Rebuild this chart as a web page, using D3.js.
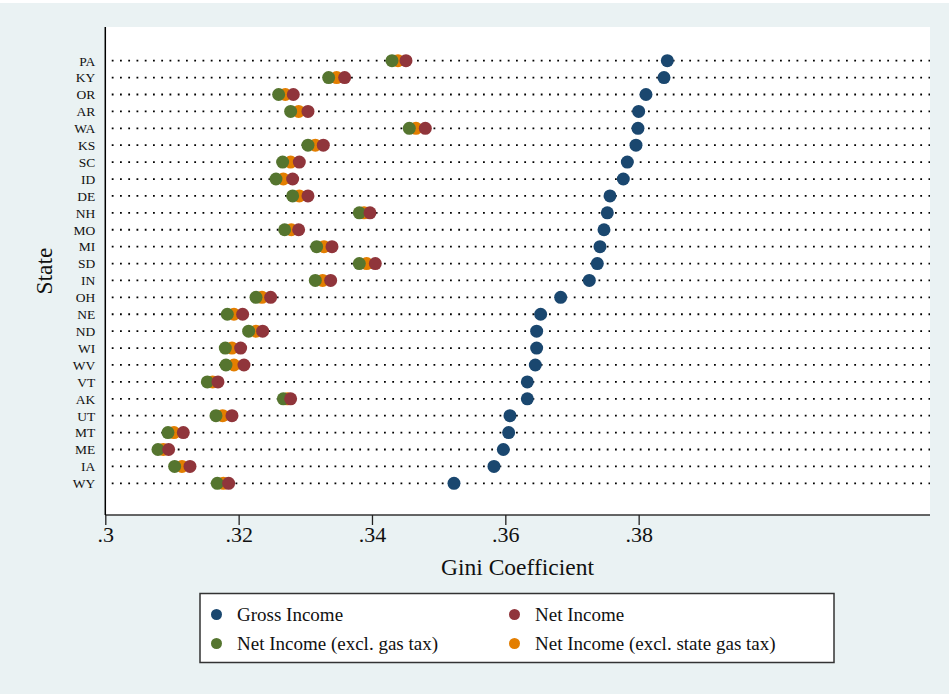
<!DOCTYPE html>
<html><head><meta charset="utf-8">
<script src="https://cdn.jsdelivr.net/npm/d3@7"></script>
<style>html,body{margin:0;padding:0;background:#fff;}svg{display:block;}</style>
</head><body>
<svg id="chart" width="949" height="694"></svg>
<script>
const states = ["PA","KY","OR","AR","WA","KS","SC","ID","DE","NH","MO","MI","SD","IN","OH","NE","ND","WI","WV","VT","AK","UT","MT","ME","IA","WY"];
const gross     = [0.3843,0.3838,0.3811,0.3800,0.3799,0.3796,0.3783,0.3777,0.3757,0.3753,0.3748,0.3742,0.3738,0.3726,0.3683,0.3653,0.3647,0.3647,0.3645,0.3633,0.3633,0.3607,0.3605,0.3597,0.3583,0.3523];
const net       = [0.3451,0.3359,0.3282,0.3304,0.3480,0.3327,0.3291,0.3281,0.3304,0.3397,0.3290,0.3340,0.3405,0.3338,0.3248,0.3206,0.3236,0.3203,0.3208,0.3169,0.3278,0.3190,0.3117,0.3095,0.3127,0.3185];
const exclGas   = [0.3430,0.3335,0.3260,0.3278,0.3456,0.3304,0.3266,0.3256,0.3281,0.3381,0.3269,0.3317,0.3381,0.3315,0.3226,0.3183,0.3215,0.3180,0.3181,0.3153,0.3267,0.3166,0.3094,0.3079,0.3104,0.3168];
const exclState = [0.3439,0.3347,0.3270,0.3290,0.3466,0.3315,0.3278,0.3267,0.3291,0.3388,0.3279,0.3328,0.3392,0.3326,0.3235,0.3193,0.3226,0.3190,0.3193,0.3161,0.3273,0.3176,0.3103,0.3087,0.3115,0.3177];
const xTicks = [0.30,0.32,0.34,0.36,0.38];
const xTickLabels = [".3",".32",".34",".36",".38"];
const seriesNames = ["Gross Income","Net Income","Net Income (excl. gas tax)","Net Income (excl. state gas tax)"];
const seriesColors = ["#1a476f","#90353b","#55752f","#e37e00"];

const svg = d3.select("#chart");
const serif = "Liberation Serif";
const plot = {left:105.3, right:930, top:27, bottom:515};

svg.append("rect").attr("x",0).attr("y",3).attr("width",949).attr("height",691).attr("fill","#eaf2f3");
svg.append("rect").attr("x",plot.left).attr("y",plot.top).attr("width",plot.right-plot.left).attr("height",plot.bottom-plot.top).attr("fill","#fff");

const x = d3.scaleLinear().domain([0.3,0.4237]).range([plot.left, plot.right]);
const y = d3.scalePoint().domain(states).range([60.7, 483.3]);

// dotted row lines
svg.append("g").selectAll("line").data(states).join("line")
  .attr("x1",plot.left).attr("x2",plot.right)
  .attr("y1",d=>y(d)).attr("y2",d=>y(d))
  .attr("stroke","#000").attr("stroke-width",1.8)
  .attr("stroke-dasharray","1.8 6.45").attr("stroke-dashoffset",1.8);

// axes
const xAxis = d3.axisBottom(x).tickValues(xTicks).tickFormat((d,i)=>xTickLabels[i]).tickSize(10).tickPadding(5);
const gx = svg.append("g").attr("transform",`translate(0,${plot.bottom})`).call(xAxis);
gx.select(".domain").attr("stroke","#333").attr("stroke-width",1.5).attr("d",`M${plot.left},0H${plot.right}`);
gx.selectAll(".tick line").attr("stroke","#222").attr("stroke-width",1.3);
gx.selectAll(".tick text").attr("font-family",serif).attr("font-size",22).attr("fill","#111").attr("dy","0.55em");

const yAxis = d3.axisLeft(y).tickSize(0).tickPadding(10);
const gy = svg.append("g").attr("transform",`translate(${plot.left},0)`).call(yAxis);
gy.select(".domain").attr("stroke","#000").attr("stroke-width",1.5).attr("d",`M0,${plot.top}V${plot.bottom}`);
gy.selectAll(".tick text").attr("font-family",serif).attr("font-size",13.5).attr("fill","#111");

// markers: gross, then orange, green, red
const r = 6.5;
function drawSeries(vals, color){
  svg.append("g").selectAll("circle").data(states).join("circle")
    .attr("cx",(d,i)=>x(vals[i])).attr("cy",d=>y(d)).attr("r",r)
    .attr("fill",color);
}
drawSeries(gross, seriesColors[0]);
drawSeries(exclState, seriesColors[3]);
drawSeries(exclGas, seriesColors[2]);
drawSeries(net, seriesColors[1]);

// axis titles
svg.append("text").attr("x",517.5).attr("y",575).attr("text-anchor","middle")
  .attr("font-family",serif).attr("font-size",23.5).attr("fill","#111").text("Gini Coefficient");
svg.append("text").attr("transform",`translate(51.5,${(plot.top+plot.bottom)/2}) rotate(-90)`).attr("text-anchor","middle")
  .attr("font-family",serif).attr("font-size",23.5).attr("fill","#111").text("State");

// legend
const lg = svg.append("g");
lg.append("rect").attr("x",200).attr("y",593.5).attr("width",634).attr("height",69).attr("fill","#fff")
  .attr("stroke","#333").attr("stroke-width",1.5);
const legendPos = [[216.5,614.5],[514.5,614.5],[216.5,643.5],[514.5,643.5]];
seriesNames.forEach((name,i)=>{
  const [lx,ly] = legendPos[i];
  lg.append("circle").attr("cx",lx).attr("cy",ly).attr("r",5.5).attr("fill",seriesColors[i]);
  lg.append("text").attr("x",lx+20.5).attr("y",ly+6.5).attr("font-family",serif).attr("font-size",19).attr("fill","#111").text(name);
});
</script>
</body></html>
